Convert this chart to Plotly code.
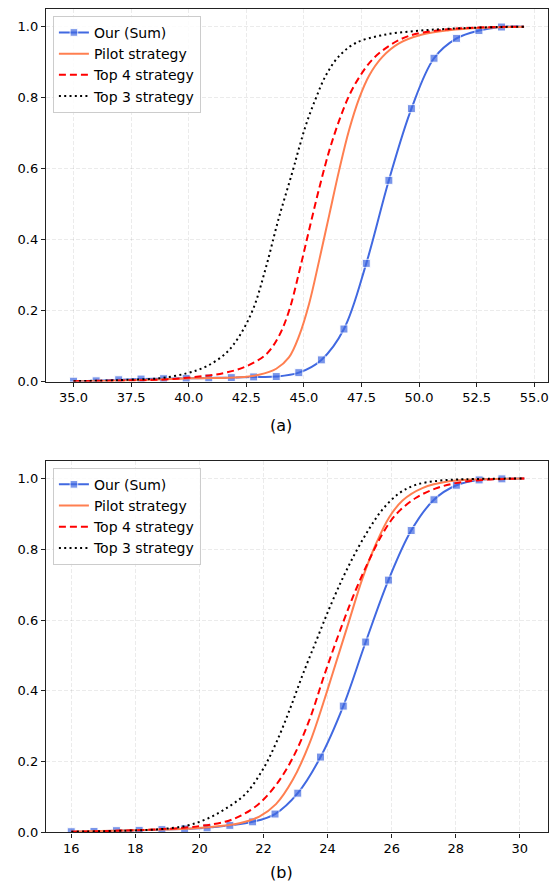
import plotly.graph_objects as go

# ---------------- Panel (a) ----------------
a_our_x = [35.0, 35.98, 36.96, 37.93, 38.91, 39.89, 40.87, 41.85, 42.82, 43.80, 44.78,
           45.76, 46.74, 47.71, 48.69, 49.67, 50.65, 51.63, 52.60, 53.58, 54.56]
a_our_y = [0.001, 0.002, 0.005, 0.007, 0.008, 0.009, 0.010, 0.011, 0.013, 0.014, 0.025,
           0.061, 0.148, 0.333, 0.567, 0.769, 0.911, 0.967, 0.989, 0.999, 1.0]

a_pilot_x = [35.0, 37.3, 40.15, 42.2, 43.05, 43.8, 44.35, 44.8, 45.23, 45.66, 46.1, 46.53,
             46.96, 47.4, 47.83, 48.41, 49.13, 50.14, 51.3, 52.74, 54.56]
a_pilot_y = [0.001, 0.003, 0.009, 0.012, 0.019, 0.036, 0.068, 0.13, 0.22, 0.34, 0.469, 0.595,
             0.708, 0.798, 0.862, 0.915, 0.953, 0.978, 0.990, 0.997, 1.0]

a_top4_x = [35.0, 37.0, 38.7, 40.45, 41.6, 42.5, 43.35, 43.9, 44.35, 44.8, 45.23, 45.66,
            46.1, 46.53, 46.96, 47.4, 47.97, 48.7, 49.56, 50.86, 52.3, 54.56]
a_top4_y = [0.001, 0.003, 0.005, 0.014, 0.025, 0.043, 0.076, 0.126, 0.198, 0.31, 0.428, 0.543,
            0.65, 0.735, 0.805, 0.857, 0.907, 0.946, 0.974, 0.990, 0.997, 1.0]

a_top3_x = [35.0, 36.5, 37.3, 38.7, 39.9, 40.75, 41.6, 42.2, 42.8, 43.35, 43.9, 44.5, 44.8,
            45.1, 45.5, 45.95, 46.5, 47.25, 48.4, 49.85, 51.3, 53.5, 54.56]
a_top3_y = [0.001, 0.003, 0.005, 0.009, 0.023, 0.042, 0.079, 0.128, 0.205, 0.321, 0.458, 0.59,
            0.66, 0.725, 0.795, 0.862, 0.915, 0.954, 0.976, 0.988, 0.994, 0.999, 1.0]

a_xticks = [35.0, 37.5, 40.0, 42.5, 45.0, 47.5, 50.0, 52.5, 55.0]

# ---------------- Panel (b) ----------------
b_our_x = [16.0, 16.71, 17.41, 18.12, 18.83, 19.54, 20.24, 20.95, 21.66, 22.36, 23.07,
           23.78, 24.49, 25.19, 25.90, 26.61, 27.32, 28.02, 28.73, 29.44, 30.14]
b_our_y = [0.002, 0.003, 0.005, 0.006, 0.008, 0.010, 0.013, 0.020, 0.030, 0.052, 0.111,
           0.213, 0.357, 0.538, 0.713, 0.853, 0.940, 0.981, 0.996, 0.999, 1.0]

b_pilot_x = [16.0, 18.76, 20.31, 21.25, 21.87, 22.39, 22.91, 23.43, 23.9, 24.16, 24.68,
             25.09, 25.51, 25.92, 26.34, 26.96, 27.79, 28.83, 30.14]
b_pilot_y = [0.002, 0.008, 0.015, 0.026, 0.045, 0.08, 0.148, 0.25, 0.375, 0.45, 0.6,
             0.718, 0.815, 0.89, 0.938, 0.973, 0.992, 0.998, 1.0]

b_top4_x = [16.0, 18.75, 20.0, 20.83, 21.35, 21.87, 22.39, 22.91, 23.43, 23.9, 24.47,
            24.88, 25.3, 25.71, 26.13, 26.75, 27.38, 28.0, 28.83, 30.14]
b_top4_y = [0.002, 0.009, 0.018, 0.031, 0.05, 0.082, 0.134, 0.21, 0.317, 0.445, 0.59,
            0.685, 0.77, 0.843, 0.898, 0.945, 0.972, 0.987, 0.996, 1.0]

b_top3_x = [16.0, 17.7, 18.75, 19.6, 20.2, 20.8, 21.45, 21.98, 22.39, 22.81, 23.22, 23.64,
            24.05, 24.47, 24.88, 25.3, 25.71, 26.23, 26.75, 27.48, 28.3, 30.14]
b_top3_y = [0.002, 0.005, 0.009, 0.019, 0.037, 0.066, 0.11, 0.178, 0.252, 0.345, 0.445, 0.54,
            0.632, 0.718, 0.792, 0.858, 0.912, 0.958, 0.982, 0.994, 0.998, 1.0]

b_xticks = [16, 18, 20, 22, 24, 26, 28, 30]

y_ticks = [0.0, 0.2, 0.4, 0.6, 0.8, 1.0]

names = ["Our (Sum)", "Pilot strategy", "Top 4 strategy", "Top 3 strategy"]

BLUE = "#4169E1"
CORAL = "#FF7F50"
RED = "#FF0000"
BLACK = "#000000"

fig = go.Figure()


def add_panel(xs, ys, xa, ya, leg):
    (ox, px, t4x, t3x) = xs
    (oy, py, t4y, t3y) = ys
    sizes = [8] * (len(ox) - 1) + [0]
    fig.add_trace(go.Scatter(
        x=ox, y=oy, name=names[0], mode="lines+markers",
        line=dict(color=BLUE, width=2, shape="spline", smoothing=1.0),
        marker=dict(symbol="square", size=sizes, color=BLUE),
        xaxis=xa, yaxis=ya, legend=leg))
    fig.add_trace(go.Scatter(
        x=px, y=py, name=names[1], mode="lines",
        line=dict(color=CORAL, width=2, shape="spline", smoothing=1.0),
        xaxis=xa, yaxis=ya, legend=leg))
    fig.add_trace(go.Scatter(
        x=t4x, y=t4y, name=names[2], mode="lines",
        line=dict(color=RED, width=2, dash="7px,4px", shape="spline", smoothing=1.0),
        xaxis=xa, yaxis=ya, legend=leg))
    fig.add_trace(go.Scatter(
        x=t3x, y=t3y, name=names[3], mode="lines",
        line=dict(color=BLACK, width=2, dash="2px,3.3px", shape="spline", smoothing=1.0),
        xaxis=xa, yaxis=ya, legend=leg))


add_panel((a_our_x, a_pilot_x, a_top4_x, a_top3_x),
          (a_our_y, a_pilot_y, a_top4_y, a_top3_y), "x", "y", "legend")
add_panel((b_our_x, b_pilot_x, b_top4_x, b_top3_x),
          (b_our_y, b_pilot_y, b_top4_y, b_top3_y), "x2", "y2", "legend2")

W, H = 557, 890
L, R = 46, 549
A_TOP, A_BOT = 9, 385
B_TOP, B_BOT = 465, 840

FONT = "DejaVu Sans"
tickfont = dict(family=FONT, size=13, color="black")

axis_common = dict(
    showline=True, linecolor="#222222", linewidth=1.2, mirror=True,
    ticks="outside", ticklen=4, tickwidth=1, tickcolor="#222222",
    showgrid=True, gridcolor="rgba(0,0,0,0.08)", gridwidth=1, griddash="4px,2px",
    zeroline=False, tickfont=tickfont,
)

fig.update_layout(
    width=W, height=H, autosize=False,
    margin=dict(l=0, r=0, t=0, b=0),
    paper_bgcolor="white", plot_bgcolor="white",
    font=dict(family=FONT, color="black"),
    xaxis=dict(domain=[L / W, R / W], anchor="y", range=[33.8, 55.6],
               tickvals=a_xticks, tickformat=".1f", **axis_common),
    yaxis=dict(domain=[1 - A_BOT / H, 1 - A_TOP / H], anchor="x", range=[0, 1.05],
               tickvals=y_ticks, tickformat=".1f", **axis_common),
    xaxis2=dict(domain=[L / W, R / W], anchor="y2", range=[15.21, 30.88],
                tickvals=b_xticks, **axis_common),
    yaxis2=dict(domain=[1 - B_BOT / H, 1 - B_TOP / H], anchor="x2", range=[0, 1.05],
                tickvals=y_ticks, tickformat=".1f", **axis_common),
    legend=dict(x=53 / W, y=1 - 16 / H, xanchor="left", yanchor="top",
                bgcolor="rgba(255,255,255,0.85)", bordercolor="#cccccc", borderwidth=1,
                font=dict(family=FONT, size=14, color="black"), tracegroupgap=0),
    legend2=dict(x=53 / W, y=1 - 472 / H, xanchor="left", yanchor="top",
                 bgcolor="rgba(255,255,255,0.85)", bordercolor="#cccccc", borderwidth=1,
                 font=dict(family=FONT, size=14, color="black"), tracegroupgap=0),
    annotations=[
        dict(text="(a)", x=282 / W, y=1 - 429 / H, xref="paper", yref="paper",
             xanchor="center", yanchor="middle",
             showarrow=False, font=dict(family=FONT, size=16, color="black")),
        dict(text="(b)", x=282 / W, y=1 - 880 / H, xref="paper", yref="paper",
             xanchor="center", yanchor="middle",
             showarrow=False, font=dict(family=FONT, size=16, color="black")),
    ],
)

fig.write_html(
    "out.html",
    config={"displayModeBar": False},
    post_script="document.body.style.margin='0';document.body.style.overflow='hidden';",
)
